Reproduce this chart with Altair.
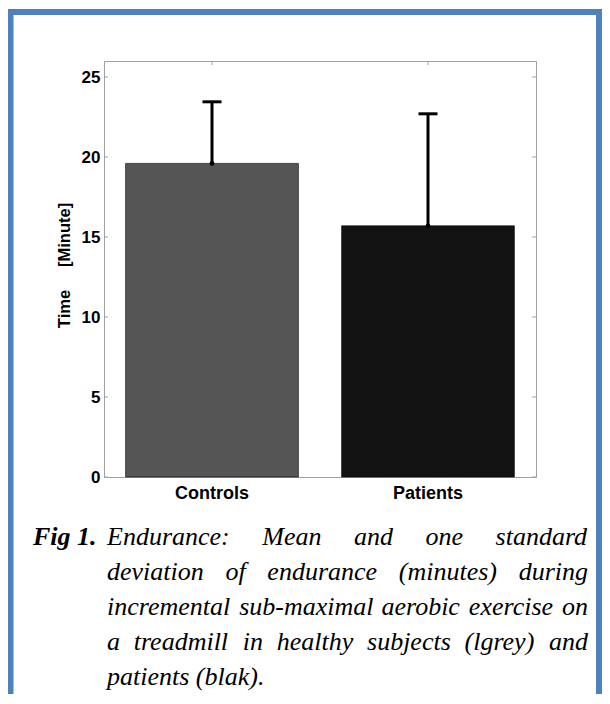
import altair as alt
import pandas as pd

# ---- data ----
groups = ["Controls", "Patients"]
means = [19.6, 15.7]
sds = [3.85, 7.0]
bar_colors = ["#555555", "#131313"]
y_tick_values = [0, 5, 10, 15, 20, 25]
y_title = "Time" + "\u00a0" * 5 + "[Minute]"
caption_label = "Fig 1."
caption_lines = [
    "Endurance: Mean and one standard",
    "deviation of endurance (minutes) during",
    "incremental sub-maximal aerobic exercise on",
    "a treadmill in healthy subjects (lgrey) and",
    "patients (blak).",
]

# ---- layout constants (pixels, relative to plot origin) ----
W, H = 432, 416
PAD_L, PAD_T = 96, 53
SVG_W, SVG_H = 594, 686
FRAME = "#4f81bd"
BOX = "#a0a0a0"
OX, OY = 104, 61  # page position of plot origin

df = pd.DataFrame({"group": groups, "mean": means, "sd": sds})
df["upper"] = df["mean"] + df["sd"]

yscale = alt.Scale(domain=[0, 26], nice=False, zero=True)
xscale = alt.Scale(domain=groups, paddingInner=0.2, paddingOuter=0.1)

base = alt.Chart(df)
bars = base.mark_bar(stroke="black", strokeWidth=0.6).encode(
    x=alt.X("group:N", scale=xscale, sort=groups,
            axis=alt.Axis(title=None, labelAngle=0, ticks=False, domain=False,
                          labelPadding=7, labelFont="Liberation Sans",
                          labelFontWeight="bold", labelFontSize=18,
                          labelColor="black")),
    y=alt.Y("mean:Q", scale=yscale,
            axis=alt.Axis(values=y_tick_values, grid=False, ticks=False,
                          domain=False, labelPadding=4,
                          labelFont="Liberation Sans", labelFontWeight="bold",
                          labelFontSize=17, labelColor="black",
                          title=y_title, titleFont="Liberation Sans",
                          titleFontWeight="bold", titleFontSize=16.5,
                          titleColor="black", titleX=-32, titleY=204)),
    color=alt.Color("group:N", scale=alt.Scale(domain=groups, range=bar_colors),
                    legend=None),
)
err = base.mark_rule(color="black", strokeWidth=3).encode(
    x=alt.X("group:N", scale=xscale, sort=groups),
    y=alt.Y("mean:Q", scale=yscale), y2="upper:Q")
caps = base.mark_tick(color="black", size=19, thickness=3, opacity=1).encode(
    x=alt.X("group:N", scale=xscale, sort=groups),
    y=alt.Y("upper:Q", scale=yscale))
dots = base.mark_point(color="black", filled=True, size=22, opacity=1).encode(
    x=alt.X("group:N", scale=xscale, sort=groups),
    y=alt.Y("mean:Q", scale=yscale))

# inward box ticks
tick_df = pd.DataFrame({"v": y_tick_values})
left_ticks = alt.Chart(tick_df).mark_rule(color=BOX, strokeWidth=1).encode(
    y=alt.Y("v:Q", scale=yscale), x=alt.value(0), x2=alt.value(4))
right_ticks = alt.Chart(tick_df).mark_rule(color=BOX, strokeWidth=1).encode(
    y=alt.Y("v:Q", scale=yscale), x=alt.value(W - 4), x2=alt.value(W))
top_ticks = alt.Chart(pd.DataFrame({"group": groups})).mark_rule(
    color=BOX, strokeWidth=1).encode(
    x=alt.X("group:N", scale=xscale, sort=groups), y=alt.value(0), y2=alt.value(4))

# blue frame
frame = alt.Chart(pd.DataFrame({"a": [0]})).mark_rect(
    fill=None, stroke=FRAME, strokeWidth=6).encode(
    x=alt.value(10.5 - OX), x2=alt.value(599 - OX),
    y=alt.value(12 - OY), y2=alt.value(760))

# caption: justified text laid out with Times-Italic metrics
TI = {" ": 250, "(": 333, ")": 333, "-": 333, ".": 250, ":": 333,
      "a": 500, "b": 500, "c": 444, "d": 500, "e": 444, "f": 278, "g": 500,
      "h": 500, "i": 278, "j": 278, "k": 444, "l": 278, "m": 722, "n": 500,
      "o": 500, "p": 500, "q": 500, "r": 389, "s": 389, "t": 278, "u": 500,
      "v": 444, "w": 667, "x": 444, "y": 444, "z": 389, "E": 611, "M": 833}
FS = 26
def wwidth(w):
    return sum(TI.get(c, 500) for c in w) * FS / 1000

left, right = 107 - OX, 588 - OX
baselines = [545, 580, 615, 650, 685]
rows = []
for i, line in enumerate(caption_lines):
    words = line.split(" ")
    widths = [wwidth(w) for w in words]
    justify = i < len(caption_lines) - 1
    if justify and len(words) > 1:
        gap = (right - left - sum(widths)) / (len(words) - 1)
    else:
        gap = TI[" "] * FS / 1000
    x = left
    for w, wd in zip(words, widths):
        rows.append({"word": w, "px": x, "py": baselines[i] - OY})
        x += wd + gap
cap_df = pd.DataFrame(rows)
caption = alt.Chart(cap_df).mark_text(
    font="Liberation Serif", fontStyle="italic", fontSize=FS, align="left",
    baseline="alphabetic", color="black").encode(
    x=alt.X("px:Q", scale=None, axis=None),
    y=alt.Y("py:Q", scale=None, axis=None),
    text="word:N")
fig_label = alt.Chart(pd.DataFrame({"t": [caption_label]})).mark_text(
    font="Liberation Serif", fontStyle="italic", fontWeight="bold", fontSize=FS,
    align="left", baseline="alphabetic", color="black").encode(
    x=alt.value(33 - OX), y=alt.value(baselines[0] - OY), text="t:N")

chart = alt.layer(
    frame, bars, err, caps, dots, left_ticks, right_ticks, top_ticks,
    caption, fig_label,
).properties(
    width=W, height=H,
    autosize=alt.AutoSizeParams(type="none"),
    padding={"left": PAD_L, "top": PAD_T,
             "right": SVG_W - PAD_L - W, "bottom": SVG_H - PAD_T - H},
    background="white",
).configure_view(stroke=BOX, strokeWidth=1)

chart.save("out.html", embed_options={"renderer": "svg", "actions": False})
